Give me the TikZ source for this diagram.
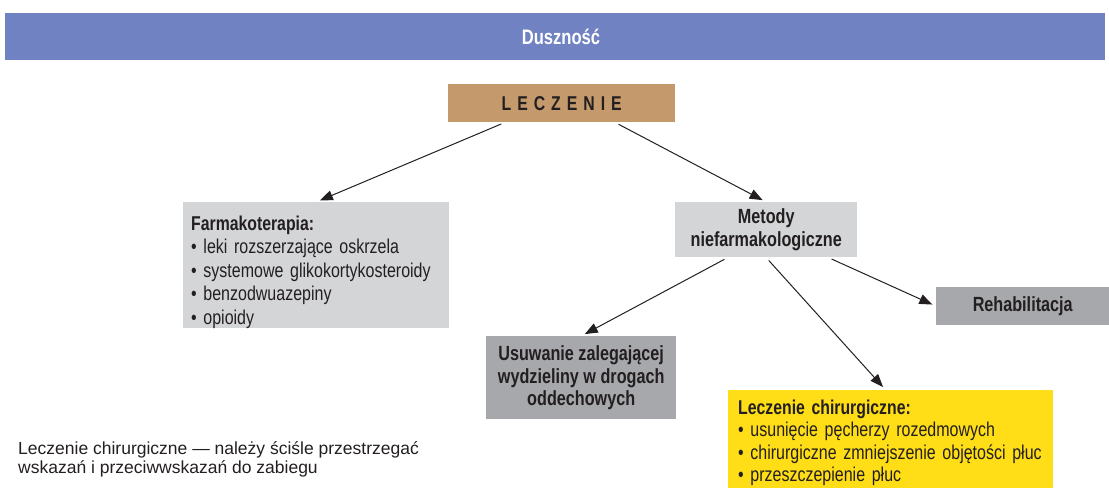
\documentclass[tikz,border=0pt]{standalone}
\usepackage{fontspec}
\setmainfont{Liberation Sans}
\newfontfamily\cond{Liberation Sans}[FakeStretch=0.80,BoldFeatures={FakeStretch=0.79}]
\usetikzlibrary{arrows.meta}
\definecolor{titleblue}{RGB}{112,130,194}
\definecolor{tan}{RGB}{196,154,108}
\definecolor{lgray}{RGB}{212,213,215}
\definecolor{dgray}{RGB}{167,168,171}
\definecolor{yel}{RGB}{255,222,23}
\definecolor{ink}{RGB}{35,31,32}
\tikzset{
  box/.style={anchor=north west, inner sep=0pt, text=ink, font=\cond\fontsize{20}{23.5}\selectfont},
  boldtext/.style={font=\cond\bfseries\fontsize{20.5}{22.5}\selectfont},
  arr/.style={draw=ink, line width=1pt, -{Triangle[length=13pt,width=10pt]}, shorten <=4pt, shorten >=4pt}
}
\begin{document}
\begin{tikzpicture}[x=1pt,y=-1pt]
\useasboundingbox (0,0) rectangle (1109,488);
\node[box, fill=titleblue, minimum width=1100pt, minimum height=47pt] (title) at (5,13) {};
\node[text=white, inner sep=0pt, font=\cond\bfseries\fontsize{21}{24}\selectfont] (titletext) at (561,36.5) {Duszność};
\node[box, fill=tan, minimum width=227pt, minimum height=38pt, font=\cond\bfseries\fontsize{20}{22}\selectfont] (lec) at (448,84) {\addfontfeature{LetterSpace=30}LECZENIE};
\node[box, fill=lgray, minimum height=126pt, text width=250pt, inner xsep=8pt, align=left] (farm) at (183,202)
  {\rule{0pt}{28pt}\textbf{Farmakoterapia:}\\
   \textbullet\ leki rozszerzające oskrzela\\
   \textbullet\ systemowe glikokortykosteroidy\\
   \textbullet\ benzodwuazepiny\\
   \textbullet\ opioidy};
\node[box, fill=lgray, minimum width=182pt, minimum height=55pt, align=center, font=\cond\bfseries\fontsize{20.5}{23}\selectfont] (met) at (675,202)
  {Metody\\niefarmakologiczne};
\node[box, fill=dgray, minimum width=173pt, minimum height=38pt, boldtext] (reh) at (936,287) {Rehabilitacja};
\node[box, fill=dgray, minimum width=190pt, minimum height=83pt, align=center, boldtext] (usu) at (486,336)
  {Usuwanie zalegającej\\wydzieliny w drogach\\oddechowych};
\node[box, fill=yel, minimum height=98pt, text width=305pt, inner xsep=10pt, align=left, font=\cond\fontsize{20}{22.5}\selectfont] (chir) at (728,390)
  {\rule{0pt}{22pt}\textbf{Leczenie chirurgiczne:}\\
   \textbullet\ usunięcie pęcherzy rozedmowych\\
   \textbullet\ chirurgiczne zmniejszenie objętości płuc\\
   \textbullet\ przeszczepienie płuc};
\node[anchor=north west, inner sep=0pt, align=left, text=ink, font=\fontsize{17.5}{19}\selectfont] (note) at (18,441)
  {Leczenie chirurgiczne — należy ściśle przestrzegać\\wskazań i przeciwwskazań do zabiegu};
\draw[arr] ([xshift=57pt]lec.south west) -- (farm.north);
\draw[arr] ([xshift=167pt]lec.south west) -- (met.north);
\draw[arr] ([xshift=53pt]met.south west) -- (usu.north);
\draw[arr] ([xshift=91pt]met.south west) -- ([xshift=-5pt]chir.north);
\draw[arr] ([xshift=153pt]met.south west) -- (reh.west);
\end{tikzpicture}
\end{document}
